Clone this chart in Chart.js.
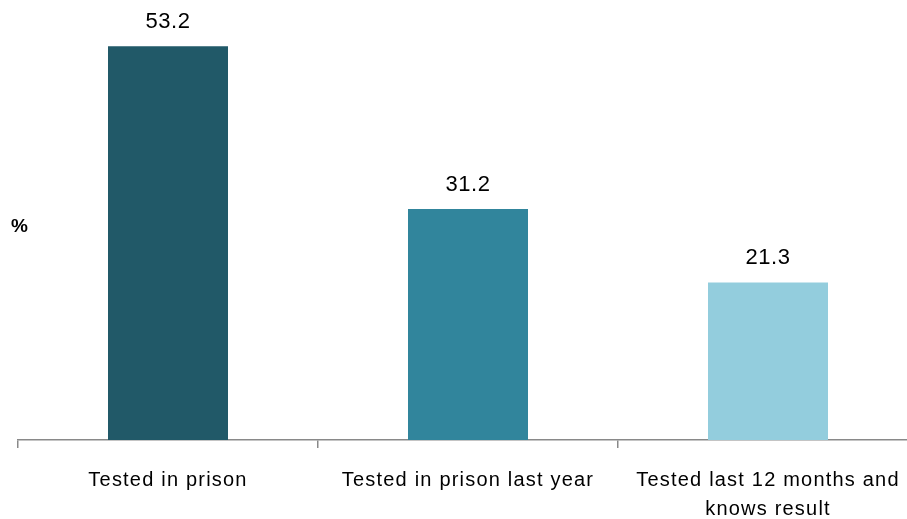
<!DOCTYPE html>
<html>
<head>
<meta charset="utf-8">
<script src="https://cdn.jsdelivr.net/npm/chart.js@4"></script>
<style>
    html, body { margin: 0; padding: 0; background: #fff; overflow: hidden; }
    #wrap { width: 907px; height: 519px; overflow: hidden; }
</style>
</head>
<body>
<div id="wrap"><canvas id="chart" width="930" height="519"></canvas></div>
<script>
// --- Data ---
const categories = [
    'Tested in prison',
    'Tested in prison last year',
    ['Tested last 12 months and', 'knows result']
];
const values = [53.2, 31.2, 21.3];
const barColors = ['#215968', '#31859C', '#93CDDD'];
const yTitle = '%';

const FONT = "'Liberation Sans', Arial, sans-serif";

// wider letter spacing, the source text is set loosely
const spacingPlugin = {
    id: 'spacing',
    beforeLayout(chart) { chart.ctx.letterSpacing = '1.2px'; },
    beforeDraw(chart) { chart.ctx.letterSpacing = '1.2px'; }
};

// value labels above bars + the "%" axis title
const labelPlugin = {
    id: 'labels',
    afterDatasetsDraw(chart) {
        const ctx = chart.ctx;
        ctx.save();
        ctx.letterSpacing = '0.5px';
        ctx.fillStyle = '#000';
        ctx.textAlign = 'center';
        ctx.textBaseline = 'middle';
        ctx.font = '22px ' + FONT;
        chart.getDatasetMeta(0).data.forEach((bar, i) => {
            ctx.fillText(values[i].toFixed(1), bar.x, bar.y - 24);
        });
        ctx.textAlign = 'left';
        ctx.font = 'bold 19px ' + FONT;
        ctx.fillText(yTitle, 11, 227);
        ctx.restore();
    }
};

new Chart(document.getElementById('chart'), {
    type: 'bar',
    data: {
        labels: categories,
        datasets: [{
            data: values,
            backgroundColor: barColors,
            borderWidth: 0,
            barPercentage: 0.4,
            categoryPercentage: 1
        }]
    },
    options: {
        responsive: false,
        animation: false,
        layout: { padding: { left: 18, top: 33, right: 12, bottom: 0 } },
        plugins: {
            legend: { display: false },
            tooltip: { enabled: false }
        },
        scales: {
            x: {
                afterFit(scale) { scale.height = 79; },
                border: { color: '#898989', width: 1.5 },
                grid: {
                    offset: true,
                    drawOnChartArea: false,
                    drawTicks: true,
                    tickLength: 8,
                    color: '#898989',
                    lineWidth: 1.5
                },
                ticks: {
                    color: '#000',
                    padding: 18,
                    maxRotation: 0,
                    autoSkip: false,
                    font: { family: FONT, size: 20, lineHeight: 1.45 }
                }
            },
            y: {
                display: false,
                min: 0,
                max: 55
            }
        }
    },
    plugins: [spacingPlugin, labelPlugin]
});
</script>
</body>
</html>
